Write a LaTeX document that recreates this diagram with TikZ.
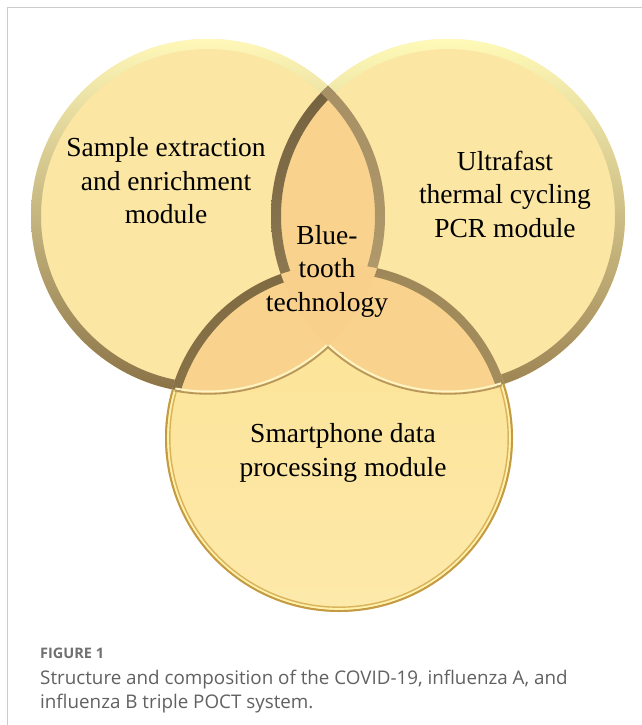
\documentclass[tikz,border=0pt]{standalone}
\usepackage{fontspec}
\setmainfont{Liberation Serif}
\newfontfamily\capfont{Open Sans}
\definecolor{baseY}{HTML}{FBE6A3}
\definecolor{ovl}{HTML}{F9D38E}
\definecolor{tri}{HTML}{F8D08B}
\definecolor{bTop}{HTML}{FCE293}
\definecolor{bBot}{HTML}{FDE9AA}
\definecolor{Ltop}{HTML}{FFF8B8}
\definecolor{Lmid}{HTML}{E2BD7E}
\definecolor{Lbot}{HTML}{8A7246}
\definecolor{Rtop}{HTML}{FFFAB8}
\definecolor{Rmid}{HTML}{D2B27A}
\definecolor{Rbot}{HTML}{9C8252}
\definecolor{lensA}{HTML}{6E5C3B}
\definecolor{lensB}{HTML}{9B855A}
\definecolor{lensC}{HTML}{A48E63}
\definecolor{lensD}{HTML}{B59E6E}
\definecolor{bl1}{HTML}{7E6A42}
\definecolor{bl2}{HTML}{9A8253}
\definecolor{br1}{HTML}{9E8758}
\definecolor{br2}{HTML}{B09A68}
\definecolor{goldD}{HTML}{C49A45}
\definecolor{goldL}{HTML}{FFF1A8}
\definecolor{goldM}{HTML}{D9B35C}
\definecolor{bevH}{HTML}{FFF4C2}
\definecolor{bevS}{HTML}{B8985A}
\definecolor{framec}{HTML}{CCCCCC}
\definecolor{capc}{HTML}{616161}
\definecolor{figc}{HTML}{707070}
\begin{document}
\begin{tikzpicture}[x=1pt,y=-1pt,
  lbl/.style={font=\fontsize{27.5}{33.5}\selectfont, align=center, text=black, inner sep=0pt}]
\useasboundingbox (0,0) rectangle (642,725);
\fill[white] (0,0) rectangle (642,725);
\def\rL{177pt}
\def\rLi{167pt}
\def\rB{174pt}
\def\rBi{165pt}
\coordinate (cL) at (208,216);
\coordinate (cR) at (448,216);
\coordinate (cB) at (339,438);
% base fills
\fill[baseY] (cL) circle[radius=\rL];
\fill[baseY] (cR) circle[radius=\rL];
\shade[top color=bTop, bottom color=bBot] (cB) circle[radius=\rB];
% overlaps
\begin{scope}\clip (cL) circle[radius=\rL]; \fill[ovl] (cR) circle[radius=\rL];\end{scope}
\begin{scope}\clip (cL) circle[radius=\rL]; \fill[ovl] (cB) circle[radius=\rB];\end{scope}
\begin{scope}\clip (cR) circle[radius=\rL]; \fill[ovl] (cB) circle[radius=\rB];\end{scope}
\begin{scope}\clip (cL) circle[radius=\rL]; \clip (cR) circle[radius=\rL]; \fill[tri] (cB) circle[radius=\rB];\end{scope}
% outer rim of L (outside R and B)
\begin{scope}[even odd rule]
\clip (-20,-20) rectangle (680,760) (cR) circle[radius=\rL];
\clip (-20,-20) rectangle (680,760) (cB) circle[radius=\rB];
\shade[shading angle=20, top color=Ltop, middle color=Lmid, bottom color=Lbot] (cL) circle[radius=\rL] (cL) circle[radius=\rLi];
\end{scope}
% outer rim of R (outside L and B)
\begin{scope}[even odd rule]
\clip (-20,-20) rectangle (680,760) (cL) circle[radius=\rL];
\clip (-20,-20) rectangle (680,760) (cB) circle[radius=\rB];
\shade[shading angle=45, top color=Rtop, middle color=Rmid, bottom color=Rbot] (cR) circle[radius=\rL] (cR) circle[radius=\rLi];
\end{scope}
% lens rims
\begin{scope}[even odd rule]
\clip (cL) circle[radius=\rL];
\clip (-20,-20) rectangle (680,760) (cB) circle[radius=\rB];
\shade[top color=lensA, bottom color=lensB] (cR) circle[radius=\rL] (cR) circle[radius=\rLi];
\end{scope}
\begin{scope}[even odd rule]
\clip (cR) circle[radius=\rL];
\clip (-20,-20) rectangle (680,760) (cB) circle[radius=\rB];
\shade[top color=lensC, bottom color=lensD] (cL) circle[radius=\rL] (cL) circle[radius=\rLi];
\end{scope}
% B rim inside L only
\begin{scope}[even odd rule]
\clip (cL) circle[radius=\rL];
\clip (-20,-20) rectangle (680,760) (cR) circle[radius=\rL];
\shade[top color=bl1, bottom color=bl2] (cB) circle[radius=\rB] (cB) circle[radius=\rBi];
\end{scope}
% B rim inside R only
\begin{scope}[even odd rule]
\clip (cR) circle[radius=\rL];
\clip (-20,-20) rectangle (680,760) (cL) circle[radius=\rL];
\shade[top color=br1, bottom color=br2] (cB) circle[radius=\rB] (cB) circle[radius=\rBi];
\end{scope}
% B outer bevel (outside L and R)
\begin{scope}[even odd rule]
\clip (-20,-20) rectangle (680,760) (cL) circle[radius=\rL];
\clip (-20,-20) rectangle (680,760) (cR) circle[radius=\rL];
\draw[goldD, line width=2.2pt] (cB) circle[radius=172.9pt];
\draw[goldL, line width=1.6pt] (cB) circle[radius=171pt];
\draw[goldM, line width=1.4pt] (cB) circle[radius=169.2pt];
\end{scope}
% bottom arcs of L and R inside B (bevel lines)
\begin{scope}[even odd rule]
\clip (cB) circle[radius=171pt];
\clip (-20,-20) rectangle (680,760) (cR) circle[radius=\rL];
\draw[bevH, line width=2pt] (cL) circle[radius=175.5pt];
\draw[bevS, line width=1.8pt] (cL) circle[radius=177.8pt];
\end{scope}
\begin{scope}[even odd rule]
\clip (cB) circle[radius=171pt];
\clip (-20,-20) rectangle (680,760) (cL) circle[radius=\rL];
\draw[bevH, line width=2pt] (cR) circle[radius=175.5pt];
\draw[bevS, line width=1.8pt] (cR) circle[radius=177.8pt];
\end{scope}
% labels
\node[lbl] (t1) at (166,181) {Sample extraction\\and enrichment\\module};
\node[lbl] (t2) at (505,194) {Ultrafast\\thermal cycling\\PCR module};
\node[lbl] (t3) at (327,271) {Blue-\\tooth\\technology};
\node[lbl] (t4) at (343,453) {Smartphone data\\processing module};
% frame
\draw[framec, line width=1.5pt] (7.5,725) -- (7.5,7.5) -- (642,7.5);
% caption
\node[anchor=west, inner sep=0pt, text=figc, font=\capfont\bfseries\fontsize{14.5}{17}\selectfont] (fig) at (40,653) {FIGURE 1};
\node[anchor=north west, inner sep=0pt, align=left, text=capc, font=\capfont\fontsize{18.8}{24}\selectfont] (cap) at (40,670) {Structure and composition of the COVID-19, influenza A, and\\influenza B triple POCT system.};
\end{tikzpicture}
\end{document}
